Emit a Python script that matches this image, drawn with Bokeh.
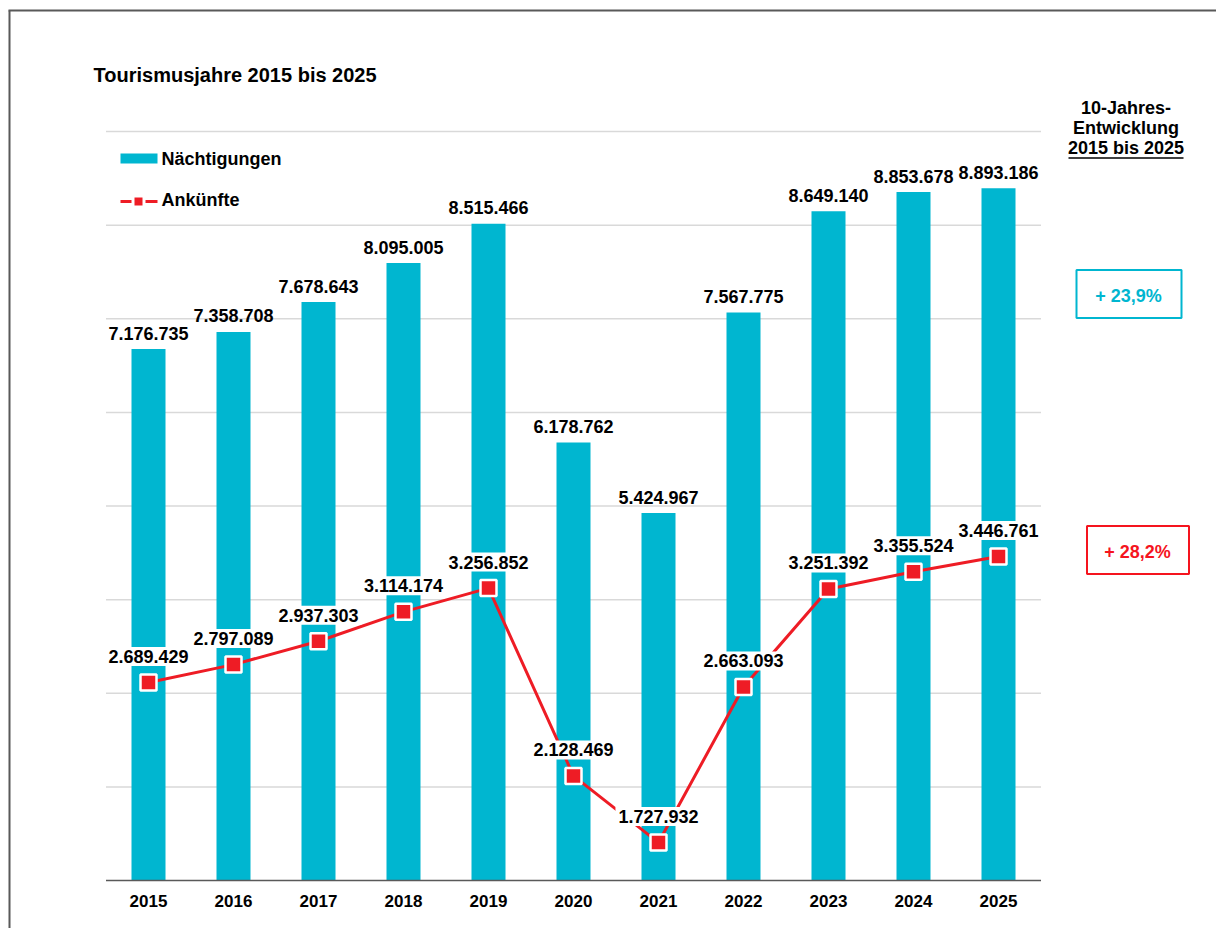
from bokeh.plotting import figure
from bokeh.models import Range1d, ColumnDataSource
from bokeh.core.properties import value
from bokeh.embed import file_html
from bokeh.resources import INLINE

# ---------------- data ----------------
years = ["2015", "2016", "2017", "2018", "2019", "2020", "2021", "2022", "2023", "2024", "2025"]
naechtigungen = [7176735, 7358708, 7678643, 8095005, 8515466, 6178762, 5424967, 7567775, 8649140, 8853678, 8893186]
ankuenfte = [2689429, 2797089, 2937303, 3114174, 3256852, 2128469, 1727932, 2663093, 3251392, 3355524, 3446761]

title_text = "Tourismusjahre 2015 bis 2025"
header_lines = ["10-Jahres-", "Entwicklung", "2015 bis 2025"]
legend_labels = ["Nächtigungen", "Ankünfte"]

# axis scales (both hidden)
BAR_MIN, BAR_MAX = 1_500_000, 9_500_000
ARR_MIN, ARR_MAX = 1_500_000, 6_000_000
grid_ticks = [2_500_000 + 1_000_000 * i for i in range(8)]

# ---------------- layout geometry (page pixels) ----------------
W, H = 1216, 928
OFF = 0
PX_CAT0, PX_STEP = 148, 85
PY_BOTTOM, PY_TOP = 880, 131


def xd(px):
    return (px - PX_CAT0) / PX_STEP


def yd(py):
    return BAR_MIN + (PY_BOTTOM - py) * (BAR_MAX - BAR_MIN) / (PY_BOTTOM - PY_TOP)


def ya(py):
    return ARR_MIN + (PY_BOTTOM - py) * (ARR_MAX - ARR_MIN) / (PY_BOTTOM - PY_TOP)


def fmt(v):
    return f"{v:,}".replace(",", ".")


def pct(a, b):
    return "+ " + f"{(b / a - 1) * 100:.1f}".replace(".", ",") + "%"


CYAN = "#00B6D0"
RED = "#EE1C25"
BOX_RED = "#F5141E"
FONT = value("Liberation Sans")

idx = list(range(len(years)))
src = ColumnDataSource(dict(
    x=idx, year=years, n=naechtigungen, a=ankuenfte,
    n_lbl=[fmt(v) for v in naechtigungen], a_lbl=[fmt(v) for v in ankuenfte],
))

p = figure(width=W, height=H,
           x_range=Range1d(xd(OFF), xd(OFF + W)),
           y_range=Range1d(yd(OFF + H), yd(OFF)),
           output_backend="svg", toolbar_location=None,
           x_axis_location=None, y_axis_location=None,
           min_border=0, outline_line_color=None,
           background_fill_color="white", border_fill_color="white")
p.extra_y_ranges = {"arr": Range1d(ya(OFF + H), ya(OFF))}
p.grid.visible = False

# outer frame (left & top)
p.segment(x0=[xd(9), xd(8)], x1=[xd(9), xd(1216)], y0=[yd(10), yd(10)], y1=[yd(940), yd(10)],
          line_color="#595959", line_width=2)

# gridlines
p.segment(x0=[-0.5] * len(grid_ticks), x1=[len(years) - 0.5] * len(grid_ticks),
          y0=grid_ticks, y1=grid_ticks, line_color="#D9D9D9", line_width=1.5)

# bars
p.vbar(x="x", top="n", bottom=BAR_MIN, width=0.4, source=src, fill_color=CYAN, line_color=None)

# axis line
p.segment(x0=[-0.5], x1=[len(years) - 0.5], y0=[BAR_MIN], y1=[BAR_MIN], line_color="#595959", line_width=1.5)

# arrivals line + markers
p.line(x="x", y="a", source=src, y_range_name="arr", line_color=RED, line_width=3)
p.scatter(x="x", y="a", source=src, y_range_name="arr", marker="square", size=16,
          fill_color=RED, line_color="white", line_width=2.5)

# bar labels
p.text(x="x", y="n", text="n_lbl", source=src, y_offset=-16,
       text_align="center", text_baseline="middle", text_font=FONT,
       text_font_style="bold", text_font_size="18px", text_color="black")

# arrival labels with white background
p.text(x="x", y="a", text="a_lbl", source=src, y_range_name="arr", y_offset=-26,
       text_align="center", text_baseline="middle", text_font=FONT,
       text_font_style="bold", text_font_size="18px", text_color="black",
       background_fill_color="white", padding=3)

# x category labels
p.text(x="x", y=yd(900.5), text="year", source=src,
       text_align="center", text_baseline="middle", text_font=FONT,
       text_font_style="bold", text_font_size="17px", text_color="black")

# title
p.text(x=[xd(93)], y=[yd(74)], text=[title_text], text_align="left", text_baseline="middle",
       text_font=FONT, text_font_style="bold", text_font_size="20px", text_color="black")

# legend
p.quad(left=[xd(120)], right=[xd(157)], top=[yd(153)], bottom=[yd(163)], fill_color=CYAN, line_color=None)
p.line(x=[xd(120), xd(157)], y=[yd(201), yd(201)], line_color=RED, line_width=3)
p.scatter(x=[xd(138)], y=[yd(201)], marker="square", size=11, fill_color=RED,
          line_color="white", line_width=3)
p.text(x=[xd(161), xd(161)], y=[yd(158.5), yd(199.5)], text=legend_labels,
       text_align="left", text_baseline="middle", text_font=FONT, text_font_style="bold",
       text_font_size="18px", text_color="black")

# right header
p.text(x=[xd(1125.5)] * 3, y=[yd(107.5), yd(127.5), yd(147.5)], text=header_lines,
       text_align="center", text_baseline="middle", text_font=FONT, text_font_style="bold",
       text_font_size="18px", text_color="black")
p.segment(x0=[xd(1068)], x1=[xd(1183)], y0=[yd(157.5)], y1=[yd(157.5)], line_color="black", line_width=1.5)

# 10-year change boxes
p.quad(left=[xd(1076)], right=[xd(1181)], top=[yd(269.5)], bottom=[yd(317.5)],
       fill_color="white", line_color=CYAN, line_width=2)
p.text(x=[xd(1128)], y=[yd(295)], text=[pct(naechtigungen[0], naechtigungen[-1])],
       text_align="center", text_baseline="middle", text_font=FONT, text_font_style="bold",
       text_font_size="18px", text_color=CYAN)
p.quad(left=[xd(1086.5)], right=[xd(1188.5)], top=[yd(525.5)], bottom=[yd(573.5)],
       fill_color="white", line_color=BOX_RED, line_width=2)
p.text(x=[xd(1137)], y=[yd(551.5)], text=[pct(ankuenfte[0], ankuenfte[-1])],
       text_align="center", text_baseline="middle", text_font=FONT, text_font_style="bold",
       text_font_size="18px", text_color=BOX_RED)

open("out.html", "w").write(file_html(p, INLINE))
